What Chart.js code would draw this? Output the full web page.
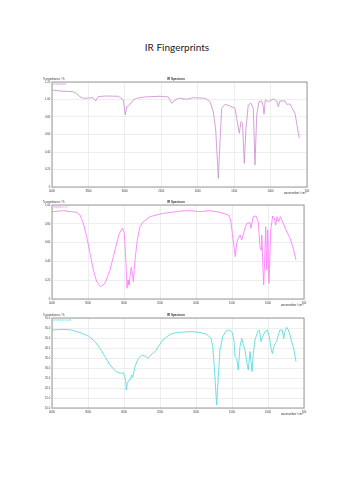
<!DOCTYPE html>
<html>
<head>
<meta charset="utf-8">
<script src="https://cdn.jsdelivr.net/npm/chart.js@4.4.1/dist/chart.umd.min.js"></script>
<style>
  html, body { margin:0; padding:0; background:#fff; }
  body { width:354px; height:500px; position:relative; overflow:hidden; }
  #mainTitle { position:absolute; left:0; width:354px; top:41px; text-align:center;
    font-family:Lato, "Open Sans", sans-serif; font-size:10px; color:#222; line-height:12px; }
  canvas { position:absolute; left:0; }
</style>
</head>
<body>
<div id="mainTitle">IR Fingerprints</div>
<canvas id="c1" width="354" height="130" style="top:70px"></canvas>
<canvas id="c2" width="354" height="120" style="top:193px"></canvas>
<canvas id="c3" width="354" height="120" style="top:306px"></canvas>
<script>
// ---- data ----
const xTicks = [4000, 3500, 3000, 2500, 2000, 1500, 1000, 500];

const names = ["propanone", "propan-1-ol", "propanoic acid"];

const wn1 = [3996,3890,3708,3657,3616,3570,3506,3437,3400,3365,3273,3090,3021,2994,2975,2943,2884,2837,2724,2518,2404,2357,2326,2267,2243,2151,2061,1900,1831,1786,1753,1717,1694,1671,1626,1557,1488,1465,1429,1406,1385,1361,1337,1306,1269,1237,1214,1190,1159,1122,1100,1090,1072,1031,963,916,894,871,802,779,734,665,606];
const t1 = [1.109,1.097,1.089,1.063,1.032,1.014,1.017,1.021,0.983,1.032,1.040,1.037,0.994,0.823,0.918,0.931,0.994,1.014,1.029,1.037,1.029,0.957,0.983,1.014,1.014,1.002,1.021,1.014,0.975,0.861,0.651,0.099,0.518,0.899,0.945,0.926,0.899,0.785,0.614,0.746,0.728,0.271,0.674,0.937,0.957,0.899,0.251,0.823,0.975,0.983,0.918,0.831,0.994,0.975,1.006,0.983,0.918,0.983,0.983,0.945,0.949,0.842,0.557];
const yTicks1 = [0, 0.2, 0.4, 0.6, 0.8, 1.0, 1.2];

const wn2 = [3996,3843,3657,3611,3565,3518,3472,3426,3379,3324,3264,3194,3125,3065,3024,2996,2972,2958,2944,2931,2917,2899,2879,2871,2847,2815,2778,2732,2639,2454,2268,2222,2083,1944,1806,1667,1551,1518,1496,1472,1454,1435,1413,1389,1365,1333,1296,1250,1236,1204,1167,1135,1111,1097,1087,1074,1060,1046,1032,1018,1004,986,962,935,912,893,875,851,829,788,750,694,649,611];
const t2 = [0.929,0.939,0.922,0.894,0.805,0.663,0.486,0.309,0.184,0.131,0.167,0.309,0.521,0.699,0.752,0.699,0.380,0.114,0.202,0.149,0.237,0.337,0.237,0.184,0.415,0.628,0.769,0.822,0.876,0.912,0.929,0.936,0.939,0.929,0.939,0.922,0.894,0.840,0.699,0.556,0.450,0.593,0.646,0.681,0.628,0.716,0.805,0.812,0.752,0.876,0.883,0.822,0.556,0.521,0.681,0.415,0.149,0.415,0.769,0.309,0.734,0.167,0.734,0.883,0.858,0.787,0.876,0.822,0.876,0.805,0.734,0.646,0.539,0.415];
const yTicks2 = [0, 0.2, 0.4, 0.6, 0.8, 1.0];

const wn3 = [3996,3843,3726,3611,3496,3403,3333,3264,3194,3111,3032,3010,2990,2976,2968,2954,2935,2917,2893,2879,2847,2801,2754,2708,2663,2629,2569,2524,2454,2361,2268,2222,2083,1944,1851,1792,1768,1746,1713,1690,1667,1629,1583,1538,1496,1472,1458,1435,1413,1389,1365,1343,1319,1296,1274,1250,1236,1222,1204,1181,1143,1121,1097,1074,1042,1010,982,958,940,912,879,857,833,801,782,764,740,718,694,671,639,611];
const t3 = [49.0,49.3,49.0,47.7,46.0,43.2,39.8,35.7,31.5,28.2,27.3,27.7,25.7,23.2,19.0,22.3,23.8,24.0,26.5,25.3,30.7,34.8,36.5,36.0,34.8,36.5,38.2,40.7,44.3,46.8,47.8,47.8,48.2,47.8,46.8,44.8,40.7,30.7,11.5,25.7,39.0,45.7,48.5,49.0,47.7,43.2,35.7,34.8,29.0,40.7,44.8,41.5,39.0,33.2,29.0,38.2,33.2,28.2,37.3,44.0,48.2,49.0,43.2,45.7,48.2,49.0,45.7,39.8,37.3,41.5,43.2,46.5,49.0,49.0,44.8,48.2,50.3,49.0,46.5,43.2,39.0,33.2];
const yTicks3 = [10, 15, 20, 25, 30, 35, 40, 45, 50, 55];

// ---- drawing ----
const FONT = "Liberation Sans";

const annotate = {
  id: 'annotate',
  afterDraw(chart, args, opts) {
    const {ctx, chartArea: a} = chart;
    ctx.save();
    ctx.strokeStyle = '#9a9a9a';
    ctx.lineWidth = 1;
    ctx.strokeRect(a.left, a.top, a.right - a.left, a.bottom - a.top);
    ctx.textBaseline = 'middle';
    ctx.fillStyle = '#333';
    ctx.font = '2.7px "' + FONT + '"';
    ctx.textAlign = 'left';
    ctx.fillText('Transmittance / %', 43, a.top - 3);
    ctx.textAlign = 'right';
    ctx.fillText('wavenumber / cm\u207B\u00B9', a.right, a.bottom + 6);
    ctx.font = 'bold 3px "' + FONT + '"';
    ctx.textAlign = 'center';
    ctx.fillText('IR Spectrum', 176, a.top - 3);
    ctx.font = '2.7px "' + FONT + '"';
    ctx.textAlign = 'left';
    ctx.fillStyle = opts.color;
    ctx.fillText(opts.name, a.left + 1.5, a.top + 1.8);
    ctx.restore();
  }
};

function makeChart(id, wn, t, yTicks, name, color, pad, fmt) {
  const ymin = yTicks[0], ymax = yTicks[yTicks.length - 1];
  return new Chart(document.getElementById(id), {
    type: 'line',
    data: { datasets: [{
      label: name,
      data: wn.map((x, i) => ({x: x, y: t[i]})),
      borderColor: color, borderWidth: 0.9, pointRadius: 0, tension: 0, fill: false
    }]},
    options: {
      responsive: false, animation: false, devicePixelRatio: 1,
      layout: { padding: pad },
      plugins: { legend: {display: false}, tooltip: {enabled: false},
        annotate: { name: name, color: color } },
      scales: {
        x: {
          type: 'linear', reverse: true, min: 500, max: 4000,
          afterBuildTicks: s => { s.ticks = xTicks.map(v => ({value: v})); },
          afterFit: s => { s.height = 6; },
          grid: { color: '#e2e2e2', lineWidth: 0.6, tickLength: 2, drawTicks: true },
          border: { display: false },
          ticks: { font: {size: 2.7, family: FONT}, color: '#333', padding: 0.3, maxRotation: 0, autoSkip: false,
                   callback: v => String(v) }
        },
        y: {
          min: ymin, max: ymax,
          afterBuildTicks: s => { s.ticks = yTicks.map(v => ({value: v})); },
          afterFit: s => { s.width = 52; },
          grid: { color: '#e2e2e2', lineWidth: 0.6, tickLength: 1, drawTicks: true },
          border: { display: false },
          ticks: { font: {size: 2.7, family: FONT}, color: '#333', padding: 0.8, autoSkip: false, callback: fmt }
        }
      }
    },
    plugins: [annotate]
  });
}

const fmtFrac = v => v === 0 ? '0' : v.toFixed(2);
const fmtPct = v => v.toFixed(1);

makeChart('c1', wn1, t1, yTicks1, names[0], '#d195d6', {left: 0, right: 47, top: 12, bottom: 7}, fmtFrac);
makeChart('c2', wn2, t2, yTicks2, names[1], '#ff80ff', {left: 0, right: 50, top: 12, bottom: 8}, fmtFrac);
makeChart('c3', wn3, t3, yTicks3, names[2], '#5fdcdc', {left: 0, right: 50, top: 12, bottom: 12}, fmtPct);
</script>
</body>
</html>
